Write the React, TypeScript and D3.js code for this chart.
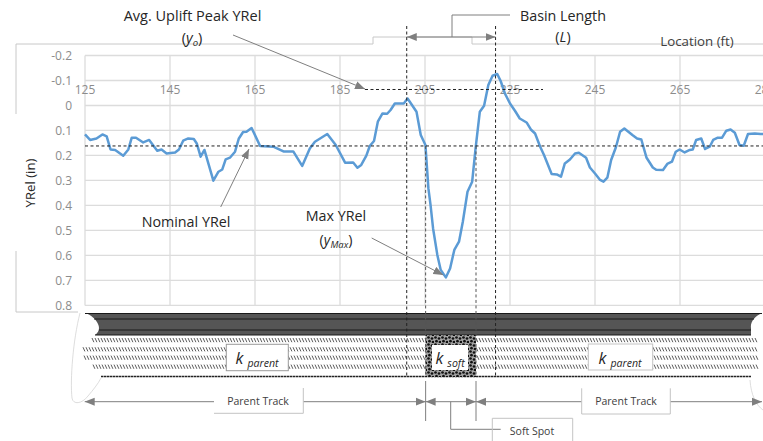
import { useEffect, useRef } from 'react';
import * as d3 from 'd3';

// Location (ft) and YRel (in)
const locations = [125, 126.2, 127.7, 129.1, 130.1, 131, 132.1, 134, 135.2, 136, 137, 138.7, 140.1, 142, 143, 144.2, 146.2, 147.1, 148.1, 149.3, 150.6, 151.3, 152.2, 153.1, 155.2, 156.4, 157.3, 158.1, 159.1, 160.3, 161.2, 162.2, 163, 164.2, 166.2, 169.3, 171.7, 174, 176.1, 177.9, 179.1, 182, 184, 186.2, 188.1, 189.1, 190, 191.2, 192, 193, 193.9, 195, 196.1, 196.9, 197.9, 200, 200.9, 203, 204, 205.1, 205.8, 206.3, 206.9, 207.9, 208.7, 209.9, 210.9, 211.9, 213, 213.9, 215, 216.1, 216.9, 217.9, 218.9, 219.9, 220.9, 222, 222.8, 223.8, 225, 226.2, 227.3, 228.9, 229.9, 230.9, 232.1, 233, 234.8, 236, 237, 237.9, 239.1, 240.3, 241.2, 242.9, 243.8, 245, 246.2, 247, 247.9, 248.8, 249.9, 250.9, 251.9, 253.8, 254.9, 255.9, 257.1, 258.6, 259.4, 261, 262, 263.1, 264, 264.9, 266.1, 267.3, 268, 268.8, 270, 270.9, 272, 272.8, 273.9, 274.9, 275.9, 276.9, 277.9, 279, 280, 281, 282.6, 284, 285];
const yRel = [0.116, 0.138, 0.132, 0.116, 0.124, 0.176, 0.178, 0.201, 0.176, 0.129, 0.129, 0.148, 0.138, 0.181, 0.176, 0.192, 0.188, 0.176, 0.141, 0.132, 0.134, 0.152, 0.205, 0.178, 0.301, 0.265, 0.256, 0.216, 0.209, 0.185, 0.132, 0.106, 0.105, 0.09, 0.162, 0.165, 0.184, 0.184, 0.242, 0.172, 0.145, 0.114, 0.158, 0.229, 0.228, 0.249, 0.238, 0.201, 0.162, 0.142, 0.065, 0.032, 0.033, 0.018, -0.008, -0.008, -0.028, 0.025, 0.118, 0.158, 0.332, 0.398, 0.492, 0.598, 0.658, 0.688, 0.652, 0.578, 0.545, 0.465, 0.345, 0.305, 0.172, 0.025, 0.001, -0.082, -0.119, -0.126, -0.098, -0.048, -0.008, 0.022, 0.052, 0.068, 0.096, 0.112, 0.165, 0.198, 0.274, 0.276, 0.285, 0.232, 0.216, 0.192, 0.189, 0.209, 0.248, 0.272, 0.298, 0.305, 0.289, 0.218, 0.168, 0.105, 0.092, 0.118, 0.132, 0.136, 0.208, 0.248, 0.257, 0.258, 0.234, 0.225, 0.185, 0.176, 0.188, 0.178, 0.176, 0.138, 0.132, 0.174, 0.165, 0.138, 0.129, 0.129, 0.101, 0.096, 0.109, 0.158, 0.161, 0.114, 0.112, 0.114, 0.114];

const xTicks = [125, 145, 165, 185, 205, 225, 245, 265, 285];
const yTicks = [-0.2, -0.1, 0, 0.1, 0.2, 0.3, 0.4, 0.5, 0.6, 0.7, 0.8];

const nominalYRel = 0.162;
const upliftYRel = -0.064;
const basinStart = 200.7;
const basinEnd = 221.6;
const softStart = 205.15;
const softEnd = 217;

const width = 763;
const height = 441;
const fontFamily = '"Open Sans", sans-serif';

const App = () => {
    const ref = useRef<SVGSVGElement>(null);

    useEffect(() => {
        const svg = d3.select(ref.current);
        svg.selectAll('*').remove();

        const x = d3.scaleLinear().domain([125, 285]).range([85, 765]);
        const y = d3.scaleLinear().domain([-0.2, 0.8]).range([55.5, 305.4]);

        const defs = svg.append('defs');
        const arrow = defs.append('marker')
            .attr('id', 'head').attr('viewBox', '0 0 10 8')
            .attr('refX', 10).attr('refY', 4)
            .attr('markerWidth', 10).attr('markerHeight', 8.5)
            .attr('markerUnits', 'userSpaceOnUse')
            .attr('orient', 'auto-start-reverse');
        arrow.append('path').attr('d', 'M0,0L10,4L0,8Z').attr('fill', '#7f7f7f');

        const dots = defs.append('pattern')
            .attr('id', 'dots').attr('width', 7).attr('height', 7)
            .attr('patternUnits', 'userSpaceOnUse');
        dots.append('rect').attr('width', 7).attr('height', 7).attr('fill', '#a4a4a4');
        dots.selectAll('circle')
            .data([[1.5, 1.5], [5, 2.5], [2.5, 5.2], [6, 6]])
            .join('circle')
            .attr('cx', d => d[0]).attr('cy', d => d[1]).attr('r', 1.35).attr('fill', '#111');

        // chart frame left over from the pasted picture
        svg.append('path')
            .attr('d', 'M16,114V44H373V37H472V44H763M16,251V312H78')
            .attr('fill', 'none').attr('stroke', '#c8c8c8').attr('stroke-width', 1);

        // grid
        const grid = svg.append('g').attr('stroke', '#dcdcdc').attr('stroke-width', 1.3);
        grid.selectAll('line.v').data(xTicks).join('line').attr('class', 'v')
            .attr('x1', d => x(d)).attr('x2', d => x(d))
            .attr('y1', y(-0.2)).attr('y2', y(0.8));
        grid.selectAll('line.h').data(yTicks).join('line').attr('class', 'h')
            .attr('x1', x(125)).attr('x2', width)
            .attr('y1', d => y(d)).attr('y2', d => y(d));

        // tick labels
        svg.append('g').attr('font-family', fontFamily).attr('font-size', 12).attr('fill', '#8c8c8c')
            .attr('text-anchor', 'end')
            .selectAll('text').data(yTicks).join('text')
            .attr('x', 72).attr('y', d => y(d)).attr('dy', '0.35em')
            .text(d => d3.format('.1f')(d).replace('0.0', '0').replace('−', '-'));
        svg.append('g').attr('font-family', fontFamily).attr('font-size', 12).attr('fill', '#8c8c8c')
            .attr('text-anchor', 'middle')
            .selectAll('text').data(xTicks).join('text')
            .attr('x', d => x(d)).attr('y', 90).attr('dy', '0.35em')
            .text(d => d);

        // pavement
        svg.append('path')
            .attr('d', 'M85,313H762C755,316 750,322 751,328V335H95C99,332 100,328 98,324C96,319 91,315 85,313Z')
            .attr('fill', '#555');
        svg.append('g').attr('stroke', '#1a1a1a').attr('stroke-width', 1)
            .selectAll('line')
            .data([[85, 762, 313.5], [94, 754, 319], [99, 751, 330], [95, 751, 335]])
            .join('line')
            .attr('x1', d => d[0]).attr('x2', d => d[1])
            .attr('y1', d => d[2]).attr('y2', d => d[2]);

        // hatched base layers, one row per band
        svg.append('g').selectAll('path')
            .data([[92, 757, 338], [83, 757, 347.2], [84, 757, 355.6], [93, 757, 364.6]])
            .join('path')
            .attr('d', d => d3.range(d[0], d[1], 3).map(px => `M${px},${d[2]}l1.9,4.2`).join(''))
            .attr('fill', 'none').attr('stroke', '#333').attr('stroke-width', 0.8);
        svg.append('line')
            .attr('x1', 101).attr('x2', 751).attr('y1', 376.5).attr('y2', 376.5)
            .attr('stroke', '#222').attr('stroke-width', 1.4).attr('stroke-dasharray', '2.5 0.5');

        // soft spot
        svg.append('rect')
            .attr('x', x(softStart)).attr('y', 335)
            .attr('width', x(softEnd) - x(softStart)).attr('height', 42)
            .attr('fill', 'url(#dots)');

        // break lines at both ends
        svg.append('path')
            .attr('d', 'M80,313C73,340 70,380 72,398C73,405 82,404 88,396C93,390 98,384 101,378M750,380C751,395 756,405 763,410')
            .attr('fill', 'none').attr('stroke', '#d4d4d4').attr('stroke-width', 0.8);

        // label boxes
        svg.append('g').selectAll('rect')
            .data([[226.3, 344.3, 62, 26.4, '#9a9a9a'], [432, 345, 36, 25, 'none'], [588.3, 344, 64.4, 26, '#c4c4c4']])
            .join('rect')
            .attr('x', d => d[0]).attr('y', d => d[1])
            .attr('width', d => d[2]).attr('height', d => d[3])
            .attr('fill', 'white').attr('stroke', d => d[4]);

        // profile
        const line = d3.line<number>().x(d => x(d)).y((_, i) => y(yRel[i]));
        svg.append('path')
            .attr('d', line(locations))
            .attr('fill', 'none').attr('stroke', '#5b9bd5').attr('stroke-width', 2.5)
            .attr('stroke-linejoin', 'round');

        // dashed guides
        const guides = svg.append('g').attr('stroke', '#222').attr('stroke-width', 1).attr('stroke-dasharray', '3 2.5');
        guides.append('line').attr('x1', x(125)).attr('x2', width).attr('y1', y(nominalYRel)).attr('y2', y(nominalYRel));
        guides.append('line').attr('x1', 365).attr('x2', 543).attr('y1', y(upliftYRel)).attr('y2', y(upliftYRel));
        guides.selectAll('line.basin').data([basinStart, basinEnd]).join('line').attr('class', 'basin')
            .attr('x1', d => x(d)).attr('x2', d => x(d)).attr('y1', 26).attr('y2', 377);
        guides.selectAll('line.soft').data([softStart, softEnd]).join('line').attr('class', 'soft')
            .attr('x1', d => x(d)).attr('x2', d => x(d)).attr('y1', y(nominalYRel)).attr('y2', 377)
            .attr('stroke', '#555');

        // arrows and leaders
        const leaders = svg.append('g').attr('fill', 'none').attr('stroke', '#7f7f7f').attr('stroke-width', 1);
        const arrowLine = (x1: number, y1: number, x2: number, y2: number, both = false) => {
            const l = leaders.append('line')
                .attr('x1', x1).attr('y1', y1).attr('x2', x2).attr('y2', y2)
                .attr('marker-end', 'url(#head)');
            if (both) l.attr('marker-start', 'url(#head)');
        };
        arrowLine(233, 35, 365, 89);
        arrowLine(220.7, 207, 249, 149);
        arrowLine(371.7, 238, 443.3, 275);
        arrowLine(x(basinStart), 37, x(basinEnd), 37, true);
        leaders.append('path').attr('d', 'M452,37V15H510');

        const dimY = 401.7;
        arrowLine(214, dimY, 84.7, dimY);
        arrowLine(303.3, dimY, x(softStart), dimY);
        arrowLine(x(softStart), dimY, x(softEnd), dimY, true);
        arrowLine(581.7, dimY, x(softEnd), dimY);
        arrowLine(670.3, dimY, 762, dimY);
        leaders.selectAll('line.tick').data([softStart, softEnd]).join('line').attr('class', 'tick')
            .attr('x1', d => x(d)).attr('x2', d => x(d)).attr('y1', 381).attr('y2', 421);
        leaders.append('path').attr('d', 'M450.7,401.7V429.3H500.7');

        // open boxes round the bottom labels
        const boxes = svg.append('g').attr('fill', 'none').attr('stroke', '#c4c4c4').attr('stroke-width', 1);
        boxes.append('path').attr('d', 'M214,413.3H303.3V388');
        boxes.append('path').attr('d', 'M581.7,388.3V414H670.3V388.3');
        boxes.append('path').attr('d', 'M492.3,441V418.3H572.7V441');

        // texts, a part with a shift is set as a subscript
        const label = (tx: number, ty: number, size: number, parts: [string, string?, boolean?][], fill = '#262626') => {
            const t = svg.append('text')
                .attr('x', tx).attr('y', ty + size * 0.35)
                .attr('text-anchor', 'middle').attr('font-family', fontFamily)
                .attr('font-size', size).attr('fill', fill);
            let lowered = false;
            parts.forEach(([s, style, sub]) => {
                const span = t.append('tspan').text(s);
                if (style) span.attr('font-style', style);
                if (sub) span.attr('dy', 3).attr('font-size', size * 0.66);
                else if (lowered) span.attr('dy', -3);
                lowered = !!sub;
            });
            return t;
        };
        label(192.5, 16, 14.5, [['Avg. Uplift Peak YRel']]);
        label(192, 38, 14.5, [['('], ['y', 'italic'], ['o', 'italic', true], [')']]);
        label(563, 16, 14.3, [['Basin Length']]);
        label(563, 37, 14.3, [['('], ['L', 'italic'], [')']]);
        label(697, 41, 13.3, [['Location (ft)']], '#404040');
        label(186, 222, 14.3, [['Nominal YRel']]);
        label(336, 216, 14.3, [['Max YRel']]);
        label(336, 240, 14.3, [['('], ['y', 'italic'], ['Max', 'italic', true], [')']]);
        label(257, 358, 16, [['k ', 'italic'], ['parent', 'italic', true]]);
        label(450, 358, 16, [['k ', 'italic'], ['soft', 'italic', true]]);
        label(620, 358, 16, [['k ', 'italic'], ['parent', 'italic', true]]);
        label(258, 401, 10.5, [['Parent Track']], '#404040');
        label(626, 401, 10.5, [['Parent Track']], '#404040');
        label(532, 431, 10.5, [['Soft Spot']], '#404040');
        label(30, 183, 13.2, [['YRel (in)']]).attr('transform', 'rotate(-90 30 183)');
    }, []);

    return (
        <svg ref={ref} width={width} height={height} style={{ position: 'absolute', left: 0, top: 0, background: 'white' }} />
    );
};

export default App;
